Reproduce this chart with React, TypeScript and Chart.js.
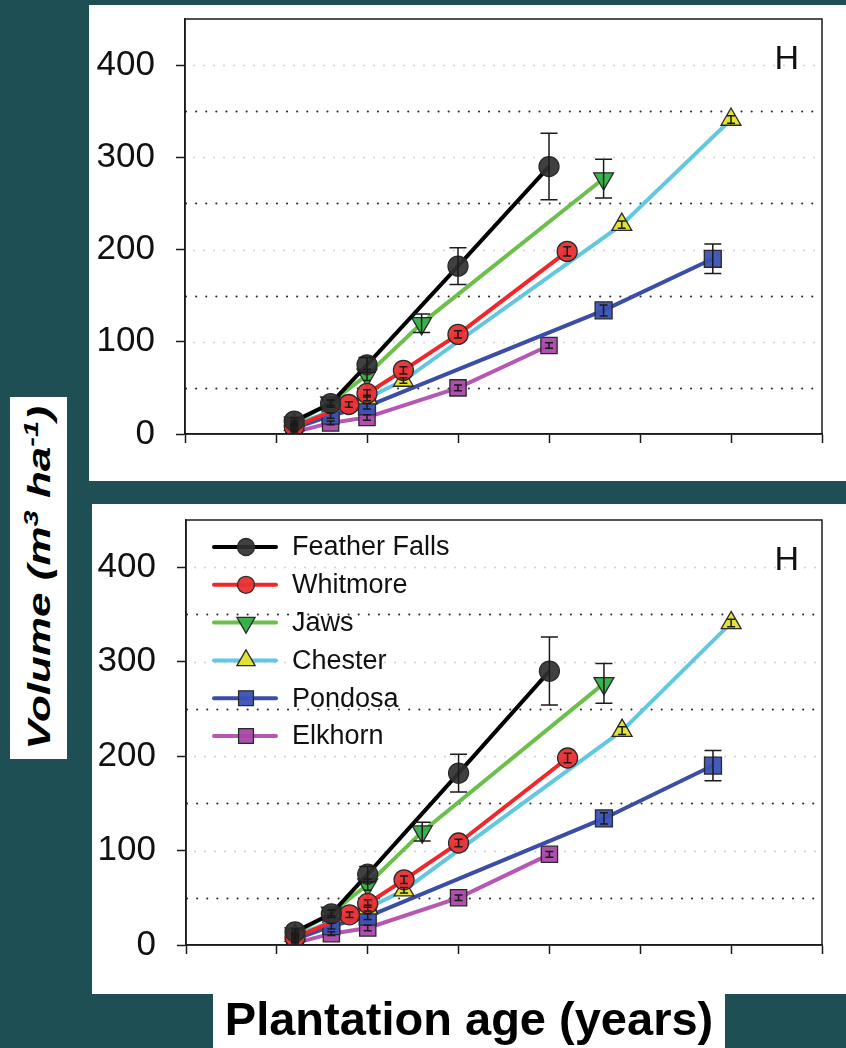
import React, { useEffect, useRef } from 'react';
import { Chart, registerables } from 'chart.js';
import { drawPoint } from 'chart.js/helpers';

Chart.register(...registerables);

// ---------- data ----------
const seriesNames = ['Feather Falls', 'Whitmore', 'Jaws', 'Chester', 'Pondosa', 'Elkhorn'];

const featherFallsAge = [6, 8, 10, 15, 20];
const featherFallsVolume = [14, 33, 75, 182, 290];
const featherFallsError = [3, 4, 8, 20, 36];

const whitmoreAge = [6, 9, 10, 12, 15, 21];
const whitmoreVolume = [8, 32, 44, 69, 108, 198];
const whitmoreError = [2, 3, 4, 4, 4, 5];

const jawsAge = [6, 8, 10, 13, 23];
const jawsVolume = [12, 34, 64, 120, 277];
const jawsError = [2, 3, 6, 10, 21];

const chesterAge = [6, 10, 12, 24, 30];
const chesterVolume = [10, 39, 58, 227, 341];
const chesterError = [2, 3, 3, 4, 4];

const pondosaAge = [6, 8, 10, 23, 29];
const pondosaVolume = [6, 20, 30, 134, 190];
const pondosaError = [2, 3, 3, 6, 16];

const elkhornAge = [6, 8, 10, 15, 20];
const elkhornVolume = [2, 12, 18, 50, 96];
const elkhornError = [1, 2, 3, 3, 3];

const yTickValues = [0, 100, 200, 300, 400];
const darkGridValues = [50, 150, 250, 350];
const lightGridValues = [100, 200, 300, 400];
const panelLetter = 'H';
const yAxisTitle = 'Volume (m';
const xAxisTitle = 'Plantation age (years)';

// ---------- styles ----------
const FONT = '"Liberation Sans", Arial, Helvetica, sans-serif';
const seriesStyles = [
  { line: '#000000', fill: 'rgba(48,48,48,0.92)', point: 'circle', rot: 0, r: 10, lr: 8.5 },
  { line: '#f0262b', fill: 'rgba(232,48,52,0.95)', point: 'circle', rot: 0, r: 10, lr: 8.5 },
  { line: '#6dbf4b', fill: 'rgba(50,176,68,0.95)', point: 'triangle', rot: 180, r: 11.5, lr: 10.5 },
  { line: '#63c8df', fill: 'rgba(226,226,46,0.97)', point: 'triangle', rot: 0, r: 11.5, lr: 10.5 },
  { line: '#3a4ea6', fill: 'rgba(58,82,182,0.95)', point: 'rect', rot: 0, r: 12, lr: 10.5 },
  { line: '#b657b6', fill: 'rgba(170,72,170,0.95)', point: 'rect', rot: 0, r: 11.5, lr: 10.5 },
];

const seriesAges = [featherFallsAge, whitmoreAge, jawsAge, chesterAge, pondosaAge, elkhornAge];
const seriesVolumes = [featherFallsVolume, whitmoreVolume, jawsVolume, chesterVolume, pondosaVolume, elkhornVolume];
const seriesErrors = [featherFallsError, whitmoreError, jawsError, chesterError, pondosaError, elkhornError];

function buildDatasets() {
  return seriesNames.map((name, i) => {
    const s = seriesStyles[i];
    return {
      label: name,
      data: seriesAges[i].map((x, j) => ({ x, y: seriesVolumes[i][j] })),
      borderColor: s.line,
      backgroundColor: s.fill,
      borderWidth: 4,
      tension: 0,
      pointStyle: s.point,
      pointRotation: s.rot,
      pointRadius: s.r,
      pointBackgroundColor: s.fill,
      pointBorderColor: '#2a2a2a',
      pointBorderWidth: 1.3,
      fill: false,
    };
  });
}

function makePlugins(showLegend: boolean) {
  const gridPlugin = {
    id: 'dotGrid',
    beforeDatasetsDraw(chart: any) {
      const { ctx, chartArea, scales } = chart;
      const y = scales.y;
      ctx.save();
      ctx.lineCap = 'round';
      ctx.lineWidth = 2;
      ctx.setLineDash([0.1, 9.9]);
      ctx.strokeStyle = '#d2d2d2';
      lightGridValues.forEach((v) => {
        const py = Math.round(y.getPixelForValue(v)) + 0.5;
        ctx.beginPath();
        ctx.moveTo(chartArea.left + 9, py);
        ctx.lineTo(chartArea.right - 2, py);
        ctx.stroke();
      });
      ctx.strokeStyle = '#2a2a2a';
      ctx.setLineDash([0.1, 10]);
      darkGridValues.forEach((v) => {
        const py = Math.round(y.getPixelForValue(v)) + 0.5;
        ctx.beginPath();
        ctx.moveTo(chartArea.left + 1, py);
        ctx.lineTo(chartArea.right - 2, py);
        ctx.stroke();
      });
      ctx.restore();
    },
  };

  const errorPlugin = {
    id: 'errorBars',
    afterDatasetsDraw(chart: any) {
      const { ctx, scales } = chart;
      const x = scales.x;
      const y = scales.y;
      ctx.save();
      ctx.strokeStyle = '#1a1a1a';
      ctx.lineWidth = 1.5;
      seriesAges.forEach((ages, i) => {
        ages.forEach((age, j) => {
          const v = seriesVolumes[i][j];
          const e = seriesErrors[i][j];
          const px = x.getPixelForValue(age);
          const y1 = y.getPixelForValue(v + e);
          const y2 = y.getPixelForValue(v - e);
          const cap = e > 6 ? 8.5 : 4;
          ctx.beginPath();
          ctx.moveTo(px, y1);
          ctx.lineTo(px, y2);
          ctx.moveTo(px - cap, y1);
          ctx.lineTo(px + cap, y1);
          ctx.moveTo(px - cap, y2);
          ctx.lineTo(px + cap, y2);
          ctx.stroke();
        });
      });
      ctx.restore();
    },
  };

  const framePlugin = {
    id: 'frameAndText',
    afterDraw(chart: any) {
      const { ctx, chartArea } = chart;
      const { left, right, top, bottom } = chartArea;
      ctx.save();
      ctx.strokeStyle = '#1a1a1a';
      ctx.lineWidth = 1.5;
      ctx.strokeRect(left, top, right - left, bottom - top);

      ctx.fillStyle = '#111';
      ctx.font = `34px ${FONT}`;
      ctx.textAlign = 'right';
      ctx.textBaseline = 'alphabetic';
      ctx.fillText(panelLetter, right - 23, top + 50);

      if (showLegend) {
        chart.data.datasets.forEach((ds: any, i: number) => {
          const s = seriesStyles[i];
          const cy = top + 27 + i * 37.8;
          ctx.setLineDash([]);
          ctx.lineCap = 'round';
          ctx.strokeStyle = s.line;
          ctx.lineWidth = 4;
          ctx.beginPath();
          ctx.moveTo(left + 28, cy);
          ctx.lineTo(left + 90, cy);
          ctx.stroke();
          ctx.fillStyle = s.fill;
          ctx.strokeStyle = '#2a2a2a';
          ctx.lineWidth = 1.3;
          drawPoint(ctx, { pointStyle: s.point, rotation: s.rot, radius: s.lr, borderWidth: 1.3 }, left + 60, cy);
          ctx.fillStyle = '#111';
          ctx.font = `27px ${FONT}`;
          ctx.textAlign = 'left';
          ctx.textBaseline = 'middle';
          ctx.fillText(ds.label, left + 106, cy + 1);
        });
      }
      ctx.restore();
    },
  };
  return [gridPlugin, errorPlugin, framePlugin];
}

function buildConfig(opts: { showLegend: boolean; yWidth: number; xHeight: number; padTop: number; padRight: number }) {
  return {
    type: 'line',
    data: { datasets: buildDatasets() },
    options: {
      responsive: false,
      animation: false,
      devicePixelRatio: 1,
      layout: { padding: { top: opts.padTop, right: opts.padRight, left: 0, bottom: 0 } },
      plugins: { legend: { display: false }, tooltip: { enabled: false } },
      scales: {
        x: {
          type: 'linear',
          min: 0,
          max: 35,
          ticks: { stepSize: 5, callback: () => '', padding: 0 },
          grid: { drawOnChartArea: false, drawTicks: true, tickLength: 9, color: '#1a1a1a', tickColor: '#1a1a1a', tickWidth: 1.5 },
          border: { display: true, color: '#1a1a1a', width: 1.5 },
          afterFit: (s: any) => {
            s.height = opts.xHeight;
            s.paddingLeft = 0;
            s.paddingRight = 0;
          },
        },
        y: {
          type: 'linear',
          min: 0,
          max: 450,
          afterBuildTicks: (s: any) => {
            s.ticks = yTickValues.map((v) => ({ value: v }));
          },
          ticks: { padding: 21, color: '#111', font: { size: 35, family: FONT } },
          grid: { drawOnChartArea: false, drawTicks: true, tickLength: 9, color: '#1a1a1a', tickColor: '#1a1a1a', tickWidth: 1.5 },
          border: { display: true, color: '#1a1a1a', width: 1.5 },
          afterFit: (s: any) => {
            s.width = opts.yWidth;
            s.paddingTop = 0;
            s.paddingBottom = 0;
          },
        },
      },
    },
    plugins: makePlugins(opts.showLegend),
  } as any;
}

function Panel(props: { left: number; top: number; width: number; height: number; showLegend: boolean; yWidth: number; xHeight: number; padTop: number; padRight: number }) {
  const ref = useRef<HTMLCanvasElement>(null);
  useEffect(() => {
    const chart = new Chart(ref.current as HTMLCanvasElement, buildConfig(props));
    return () => chart.destroy();
  }, []);
  return (
    <div style={{ position: 'absolute', left: props.left, top: props.top, width: props.width, height: props.height, background: '#fff' }}>
      <canvas ref={ref} width={props.width} height={props.height} style={{ display: 'block', width: props.width, height: props.height }} />
    </div>
  );
}

export default function App() {
  return (
    <div style={{ position: 'absolute', left: 0, top: 0, width: 846, height: 1048, background: '#1e4f55', overflow: 'hidden' }}>
      <Panel left={89} top={5} width={757} height={476} showLegend={false} yWidth={96} xHeight={47} padTop={14} padRight={24} />
      <Panel left={92} top={504} width={754} height={490} showLegend={true} yWidth={94} xHeight={49} padTop={16} padRight={24} />
      <div style={{ position: 'absolute', left: 10, top: 397, width: 57, height: 362, background: '#fff' }}>
        <div
          style={{
            position: 'absolute',
            left: '50%',
            top: '50%',
            transform: 'translate(-50%, -50%) rotate(-90deg) scaleX(1.42)',
            whiteSpace: 'nowrap',
            font: `italic bold 31px ${FONT}`,
            lineHeight: 1,
            color: '#000',
          }}
        >
          {yAxisTitle}
          <sup style={{ fontSize: '0.66em', lineHeight: 0 }}>3</sup> ha<sup style={{ fontSize: '0.66em', lineHeight: 0 }}>-1</sup>)
        </div>
      </div>
      <div
        style={{
          position: 'absolute',
          left: 213,
          top: 994,
          width: 512,
          height: 54,
          background: '#fff',
          textAlign: 'center',
          font: `bold 47px ${FONT}`,
          lineHeight: '50px',
          color: '#000',
          whiteSpace: 'nowrap',
        }}
      >
        {xAxisTitle}
      </div>
    </div>
  );
}
